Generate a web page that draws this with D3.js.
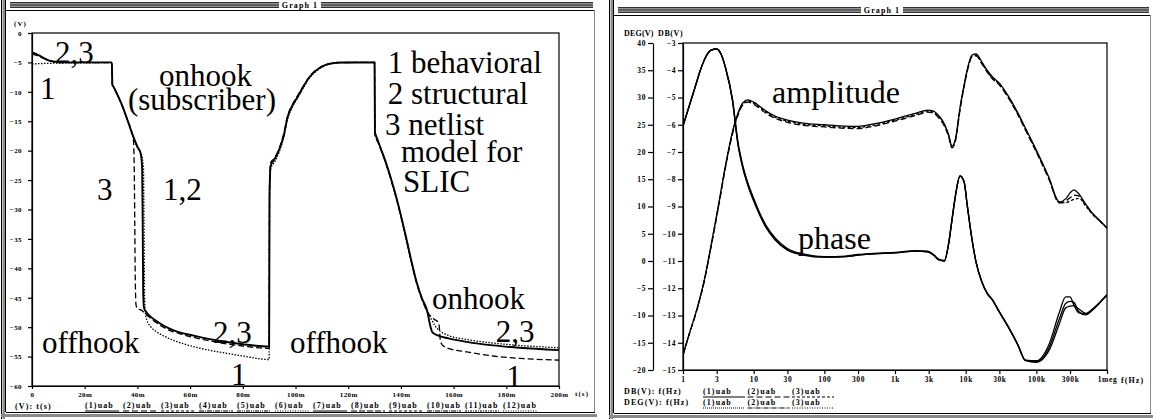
<!DOCTYPE html>
<html>
<head>
<meta charset="utf-8">
<script src="https://cdn.jsdelivr.net/npm/d3@7"></script>
<style>
  body { margin: 0; background: #fff; }
  svg text { font-family: "Liberation Serif", "Times New Roman", Times, serif; }
  .tick text { font-size: 7px; font-weight: bold; letter-spacing: 0.4px; fill: #000; }
  .rt .tick text { font-size: 7.5px; letter-spacing: 0.6px; }
  .lbl { font-size: 8px; font-weight: bold; letter-spacing: 1.1px; fill: #000; }
  .note { font-size: 31px; fill: #000; }
</style>
</head>
<body>
<svg id="chart" width="1153" height="419" font-family="Liberation Serif, Times New Roman, serif"></svg>
<script>
// ---------- left graph: transient, t in ms, V ----------
const timeTicks = [0, 20, 40, 60, 80, 100, 120, 140, 160, 180, 200];
const voltTicks = [0, -5, -10, -15, -20, -25, -30, -35, -40, -45, -50, -55, -60];

// 2 structural (solid)
const structural = [[0,-3.3],[1,-3.45],[2,-3.65],[3,-3.9],[4,-4.15],[5,-4.4],[6,-4.6],[7,-4.75],[8,-4.85],[10,-4.96],[12,-5],
  [30.3,-5],[30.5,-8.8],[31,-9.2],[32,-10.1],[34,-12.1],[36,-14.5],[38,-17.1],[40,-19.3],[41.3,-20.6],[41.8,-23],[42,-32],[42.2,-44],
  [42.5,-46.7],[43.5,-47.5],[45,-48.2],[48,-49.2],[52,-50.2],[56,-50.9],[61,-51.4],[66,-51.9],[72,-52.4],[80,-52.9],[90,-53.3],
  [90.15,-27],[90.6,-22.5],[92,-21.5],[94,-19.6],[95.5,-17.5],[97,-14.3],[99,-12.2],[101,-10.7],[103,-9.1],[105,-7.7],[107,-6.7],
  [109,-6],[111,-5.5],[114,-5.15],[117,-5.02],[130,-5],[130.15,-16.8],[130.6,-17.5],[131.2,-18.2],[132,-19.2],[134,-21.6],[136,-24.4],
  [138,-27.5],[140,-31],[142,-34.8],[144,-38.8],[146,-42.4],[148,-45.1],[150,-47.3],[151,-49.5],[152,-50.9],[154,-51.4],[158,-51.9],
  [165,-52.5],[175,-53.1],[185,-53.5],[200,-53.9]];

// 3 netlist model (dashed)
const netlist = [[0,-3.6],[2,-3.85],[4,-4.25],[6,-4.6],[8,-4.85],[10,-5],[12,-5.05],[30.3,-5.05],[30.5,-8.8],[31,-9.2],[32,-10.1],
  [34,-12.1],[36,-14.5],[38,-17.1],[38.5,-18.2],[38.8,-23],[39,-32],[39.2,-42],[39.5,-46.3],[40.2,-46.9],[41.5,-47.1],[43,-47.7],
  [45,-48.5],[48,-49.5],[52,-50.5],[56,-51.1],[61,-51.7],[66,-52.2],[72,-52.7],[80,-53.2],[90,-53.6],
  [90.15,-26],[90.6,-22],[92,-21.3],[94,-19.4],[95.5,-17.2],[97,-14.1],[99,-12],[101,-10.5],[103,-9],[105,-7.6],[107,-6.6],
  [109,-5.95],[111,-5.45],[114,-5.12],[117,-5.02],[130,-5],[130.15,-17.2],[130.6,-18],[131.2,-18.5],[132,-19.4],[134,-21.8],
  [136,-24.6],[138,-27.7],[140,-31.2],[142,-35],[144,-39],[146,-42.6],[148,-45.3],[150,-47.4],[152.5,-48.6],[154.4,-49.3],
  [154.9,-52],[155.5,-52.9],[156.5,-53.3],[158,-53.6],[165,-54.2],[175,-54.9],[185,-55.3],[200,-55.6]];

// 1 behavioral (dotted)
const behavioral = [[0,-5.25],[12,-5.1],[30.3,-5.05],[30.5,-8.8],[31,-9.2],[32,-10.1],[34,-12.1],[36,-14.5],[38,-17.1],[40,-19.5],
  [41.5,-20.6],[42.3,-23],[42.5,-32],[42.7,-44],[43,-47.5],[43.6,-48.8],[45,-49.9],[47,-50.7],[50,-51.5],[54,-52.3],[58,-52.9],
  [64,-53.6],[72,-54.3],[80,-54.9],[90,-55.5],
  [90.15,-28],[90.6,-23],[92,-22],[94,-20],[95.5,-17.8],[97,-14.6],[99,-12.4],[101,-10.9],[103,-9.3],[105,-7.8],[107,-6.8],
  [109,-6.1],[111,-5.55],[114,-5.18],[117,-5.03],[130,-5],[130.15,-17],[130.6,-17.8],[131.2,-18.4],[132,-19.3],[134,-21.7],
  [136,-24.5],[138,-27.6],[140,-31.1],[142,-34.9],[144,-38.9],[146,-42.5],[148,-45.2],[150,-47.2],[151.5,-48.6],[153,-49.8],
  [155,-50.7],[158,-51.4],[165,-52.1],[175,-52.7],[185,-53.1],[200,-53.5]];

const leftNotes = [
  ["2,3", 8.7, -5.1], ["1", 3, -11.2], ["onhook", 48.2, -9.0], ["(subscriber)", 36.4, -13.1],
  ["3", 24.7, -28.4], ["1,2", 49.7, -28.4], ["offhook", 3.8, -54.4], ["2,3", 68.7, -52.7], ["1", 75.5, -59.9],
  ["offhook", 97.9, -54.4], ["2,3", 176, -52.5], ["1", 180, -60.2], ["onhook", 151.8, -46.9],
  ["1 behavioral", 135, -6.8], ["2 structural", 135, -12.07], ["3 netlist", 134, -17.35],
  ["model for", 140, -21.9], ["SLIC", 140.8, -27.0]];

const leftLegend = ["(1)uab","(2)uab","(3)uab","(4)uab","(5)uab","(6)uab","(7)uab","(8)uab","(9)uab","(10)uab","(11)uab","(12)uab"];
const leftLegendDash = ["", "6,3", "3,2", "5,1,1,1", "4,1,1,1,1,1", "1,1.5", "", "6,2", "3,2", "5,1,1,1", "2,1,1,1", "1,1.5"];

// ---------- right graph: AC response ----------
const freqTicks = [1, 3, 10, 30, 100, 300, 1e3, 3e3, 1e4, 3e4, 1e5, 3e5, 1e6];
const freqLabels = ["1","3","10","30","100","300","1k","3k","10k","30k","100k","300k","1meg"];
const degTicks = [40, 35, 30, 25, 20, 15, 10, 5, 0, -5, -10, -15, -20];
const dbTicks = [-3, -4, -5, -6, -7, -8, -9, -10, -11, -12, -13, -14, -15];

const freqs = [1,1.25,1.5,1.75,2,2.5,3,3.5,4,5,6,7,8.3,10,12,15,20,30,50,100,200,300,500,1000,2000,2900,3500,4200,5000,5700,
  6400,7200,8300,9500,10500,12300,14000,17000,20000,24000,30000,40000,55000,70000,100000,150000,212000,260000,300000,340000,
  400000,500000,600000,800000,1000000];

const amp1 = [-14.45,-13.6,-12.95,-12.32,-11.7,-10.41,-9.31,-8.32,-7.48,-6.27,-5.57,-5.2,-5.09,-5.17,-5.31,-5.5,-5.68,-5.83,-5.94,
  -6.0,-6.05,-6.06,-5.97,-5.79,-5.57,-5.46,-5.5,-5.68,-5.97,-6.34,-6.78,-6.5,-5.39,-4.54,-3.99,-3.44,-3.4,-3.7,-3.99,-4.25,
  -4.47,-4.94,-5.57,-6.12,-6.93,-7.92,-8.83,-8.72,-8.5,-8.39,-8.54,-8.91,-9.2,-9.53,-9.79];
const amp2 = [-14.45,-13.62,-12.98,-12.36,-11.75,-10.47,-9.38,-8.4,-7.56,-6.35,-5.65,-5.28,-5.17,-5.25,-5.39,-5.58,-5.76,-5.91,-6.02,
  -6.08,-6.13,-6.14,-6.05,-5.87,-5.65,-5.54,-5.58,-5.76,-6.05,-6.41,-6.85,-6.57,-5.47,-4.61,-4.06,-3.51,-3.47,-3.77,-4.06,-4.32,
  -4.54,-5.01,-5.64,-6.19,-7.0,-7.99,-8.87,-8.8,-8.68,-8.58,-8.62,-8.95,-9.22,-9.54,-9.79];
const amp3 = [-14.45,-13.61,-12.97,-12.34,-11.73,-10.44,-9.35,-8.36,-7.52,-6.31,-5.61,-5.24,-5.13,-5.21,-5.35,-5.54,-5.72,-5.87,-5.98,
  -6.04,-6.09,-6.1,-6.01,-5.83,-5.61,-5.5,-5.54,-5.72,-6.01,-6.38,-6.82,-6.54,-5.43,-4.58,-4.03,-3.48,-3.44,-3.74,-4.03,-4.29,
  -4.51,-4.98,-5.61,-6.16,-6.97,-7.96,-8.86,-8.86,-8.8,-8.74,-8.7,-8.98,-9.24,-9.55,-9.79];

const phase1 = [24.8,28.8,32.1,34.9,36.9,38.7,38.9,37.8,35.4,29.5,21.3,17.1,13.8,11.0,8.6,6.1,3.9,2.0,1.1,0.7,0.8,1.1,1.3,1.5,1.8,
  1.7,1.1,0.2,0.0,2.9,7.5,12.1,15.6,14.5,10.3,3.9,-0.2,-3.9,-5.9,-7.2,-9.4,-12.1,-15.4,-18.2,-18.3,-15.4,-9.4,-6.6,-6.6,-8.1,
  -9.5,-9.7,-9.0,-7.5,-6.2];
const phase2 = [24.8,28.8,32.1,34.9,36.9,38.7,38.9,37.8,35.5,29.8,21.8,17.6,14.3,11.5,9.0,6.5,4.3,2.3,1.3,0.8,0.9,1.2,1.4,1.6,1.9,
  1.8,1.2,0.3,0.1,3.0,7.6,12.2,15.6,14.6,10.4,4.0,-0.1,-3.8,-5.8,-7.1,-9.3,-12.0,-15.4,-18.2,-18.5,-16.0,-10.6,-7.8,-7.4,-7.6,
  -9.3,-9.9,-9.2,-7.6,-6.2];
const phase3 = [24.8,28.8,32.1,34.9,36.9,38.7,38.9,37.8,35.4,29.6,21.5,17.3,14.0,11.2,8.8,6.3,4.1,2.1,1.2,0.7,0.8,1.1,1.3,1.5,1.8,
  1.7,1.1,0.2,0.0,2.9,7.5,12.1,15.6,14.5,10.3,3.9,-0.2,-3.9,-5.9,-7.2,-9.4,-12.1,-15.5,-18.3,-18.6,-16.5,-11.5,-8.6,-8.3,-8.2,
  -8.8,-9.6,-9.1,-7.6,-6.2];

const rightNotes = [["amplitude", 18.2, -5.2], ["phase", 42.4, -10.55]];
const rightLegend = ["(1)uab", "(2)uab", "(3)uab"];
const dbDash = ["", "6,3", "3,2"];
const degDash = ["1,1", "5,1,1,1", "1,1.5"];

// ---------- drawing ----------
const svg = d3.select("#chart");
const serif = "Liberation Serif, Times New Roman, serif";

function windowFrame(x0, x1, yTop, yBottom) {
  const g = svg.append("g");
  // outer left double line
  g.append("line").attr("x1", x0 + 0.5).attr("x2", x0 + 0.5).attr("y1", 0).attr("y2", 419).attr("stroke", "#000");
  g.append("rect").attr("x", x0 + 1.5).attr("y", 0).attr("width", 2.5).attr("height", 419).attr("fill", "#8a8a8a");
  g.append("line").attr("x1", x0 + 4.5).attr("x2", x0 + 4.5).attr("y1", 0).attr("y2", yBottom).attr("stroke", "#000");
  // title bar stripes
  const tx0 = x0 + 9, tx1 = x1 - 2;
  g.append("rect").attr("x", tx0).attr("y", yTop).attr("width", tx1 - tx0).attr("height", 6).attr("fill", "#8f8f8f");
  [yTop + 0.5, yTop + 3, yTop + 5.5].forEach(y =>
    g.append("line").attr("x1", tx0).attr("x2", tx1).attr("y1", y).attr("y2", y).attr("stroke", "#333").attr("stroke-width", 1));
  const cx = (x0 + x1) / 2 + 2;
  g.append("rect").attr("x", cx - 21).attr("y", yTop - 1).attr("width", 42).attr("height", 8).attr("fill", "#fff");
  g.append("text").attr("class", "lbl").attr("x", cx).attr("y", yTop + 6).attr("text-anchor", "middle")
    .attr("font-family", serif).text("Graph 1");
  // inner box
  g.append("line").attr("x1", x0 + 5).attr("x2", x1).attr("y1", yTop + 8.5).attr("y2", yTop + 8.5).attr("stroke", "#000");
  g.append("line").attr("x1", x1 - 0.5).attr("x2", x1 - 0.5).attr("y1", yTop + 8).attr("y2", yBottom).attr("stroke", "#888");
  g.append("line").attr("x1", x0 + 5).attr("x2", x1).attr("y1", yBottom + 0.5).attr("y2", yBottom + 0.5).attr("stroke", "#000");
  g.append("rect").attr("x", x0).attr("y", yBottom + 2).attr("width", x1 - x0 + 2).attr("height", 3).attr("fill", "#8a8a8a");
}

windowFrame(1, 595, 2, 412);
windowFrame(609, 1151, 7, 413);

function styleAxis(g) {
  g.attr("font-family", serif);
  g.select(".domain").attr("stroke", "#000").attr("stroke-width", 1.2);
  g.selectAll(".tick line").attr("stroke", "#000").attr("stroke-width", 1.2);
}

// ---- left chart ----
const xT = d3.scaleLinear().domain([0, 200]).range([32, 559]);
const yV = d3.scaleLinear().domain([-60, 0]).range([386, 33]);

svg.append("clipPath").attr("id", "clipL").append("rect")
  .attr("x", xT(0)).attr("y", yV(0)).attr("width", xT(200) - xT(0)).attr("height", yV(-60) - yV(0));

const left = svg.append("g").attr("font-family", serif);
left.append("rect").attr("x", xT(0)).attr("y", yV(0)).attr("width", xT(200) - xT(0)).attr("height", yV(-60) - yV(0))
  .attr("fill", "none").attr("stroke", "#000").attr("stroke-width", 1.2);

left.append("g").attr("transform", `translate(0,${yV(-60)})`)
  .call(d3.axisBottom(xT).tickValues(timeTicks).tickSize(3).tickSizeOuter(0).tickPadding(3)
    .tickFormat(d => d === 0 ? "0" : d + "m"))
  .call(styleAxis);
left.append("g").attr("transform", `translate(${xT(0)},0)`)
  .call(d3.axisLeft(yV).tickValues(voltTicks).tickSize(4).tickSizeOuter(0).tickPadding(6).tickFormat(d3.format("d")))
  .call(styleAxis);

left.append("text").attr("class", "lbl").attr("x", 14).attr("y", 26).style("font-size", "7px").text("(V)");
left.append("text").attr("class", "lbl").attr("x", 575).attr("y", 396).style("font-size", "7px").text("t(s)");

const lineL = d3.line().x(d => xT(d[0])).y(d => yV(d[1])).curve(d3.curveMonotoneX);
const traces = left.append("g").attr("clip-path", "url(#clipL)").attr("fill", "none").attr("stroke", "#000");
traces.append("path").attr("d", lineL(behavioral)).attr("stroke-width", 1.3).attr("stroke-dasharray", "1.5,1.5");
traces.append("path").attr("d", lineL(netlist)).attr("stroke-width", 1.3).attr("stroke-dasharray", "6,3");
traces.append("path").attr("d", lineL(structural)).attr("stroke-width", 1.9);

left.selectAll("text.note").data(leftNotes).join("text").attr("class", "note").attr("font-family", serif)
  .attr("x", d => xT(d[1])).attr("y", d => yV(d[2])).text(d => d[0]);

left.append("text").attr("class", "lbl").attr("x", 15).attr("y", 409).text("(V): t(s)");
const legX = d3.scalePoint().domain(leftLegend).range([85, 503]);
const legG = left.selectAll("g.leg").data(leftLegend).join("g").attr("class", "leg")
  .attr("transform", d => `translate(${legX(d)},0)`);
legG.append("text").attr("class", "lbl").attr("y", 408).text(d => d);
legG.append("line").attr("x1", 0).attr("x2", 34).attr("y1", 411).attr("y2", 411).attr("stroke", "#000")
  .attr("stroke-width", 1.2).attr("stroke-dasharray", (d, i) => leftLegendDash[i]);

// ---- right chart ----
const xF = d3.scaleLog().domain([1, 1e6]).range([683, 1107]);
const yDeg = d3.scaleLinear().domain([-20, 40]).range([370, 43]);
const yDb = d3.scaleLinear().domain([-15, -3]).range([370, 43]);

svg.append("clipPath").attr("id", "clipR").append("rect")
  .attr("x", xF(1)).attr("y", yDb(-3)).attr("width", xF(1e6) - xF(1)).attr("height", yDb(-15) - yDb(-3));

const right = svg.append("g").attr("class", "rt").attr("font-family", serif);
right.append("rect").attr("x", xF(1)).attr("y", yDb(-3)).attr("width", xF(1e6) - xF(1)).attr("height", yDb(-15) - yDb(-3))
  .attr("fill", "none").attr("stroke", "#000").attr("stroke-width", 1.2);

right.append("g").attr("transform", `translate(0,${yDb(-15)})`)
  .call(d3.axisBottom(xF).tickValues(freqTicks).tickSize(4).tickSizeOuter(0).tickPadding(3)
    .tickFormat((d, i) => freqLabels[i]))
  .call(styleAxis);
right.append("g").attr("transform", `translate(${xF(1)},0)`)
  .call(d3.axisLeft(yDb).tickValues(dbTicks).tickSize(5).tickSizeOuter(0).tickPadding(2).tickFormat(d3.format("d")))
  .call(styleAxis);
right.append("g").attr("transform", "translate(653,0)")
  .call(d3.axisLeft(yDeg).tickValues(degTicks).tickSize(5).tickSizeOuter(0).tickPadding(2).tickFormat(d3.format("d")))
  .call(styleAxis);

right.append("text").attr("class", "lbl").attr("x", 624).attr("y", 36).style("letter-spacing", "0.2px").text("DEG(V)");
right.append("text").attr("class", "lbl").attr("x", 658).attr("y", 36).style("letter-spacing", "0.6px").text("DB(V)");
right.append("text").attr("class", "lbl").attr("x", 1121).attr("y", 383).text("f(Hz)");

const lineDb = d3.line().x((d, i) => xF(freqs[i])).y(d => yDb(d)).curve(d3.curveMonotoneX);
const lineDeg = d3.line().x((d, i) => xF(freqs[i])).y(d => yDeg(d)).curve(d3.curveMonotoneX);
const curves = right.append("g").attr("clip-path", "url(#clipR)").attr("fill", "none").attr("stroke", "#000")
  .attr("stroke-width", 1.3);
[phase3, phase2, phase1].forEach(s => curves.append("path").attr("d", lineDeg(s)));
curves.append("path").attr("d", lineDb(amp3)).attr("stroke-dasharray", "3,2");
curves.append("path").attr("d", lineDb(amp2)).attr("stroke-dasharray", "6,3");
curves.append("path").attr("d", lineDb(amp1));

right.selectAll("text.note").data(rightNotes).join("text").attr("class", "note").style("font-size", "32px")
  .attr("x", d => xF(d[1])).attr("y", d => yDb(d[2])).text(d => d[0]);

right.append("text").attr("class", "lbl").attr("x", 624).attr("y", 394).text("DB(V): f(Hz)");
right.append("text").attr("class", "lbl").attr("x", 624).attr("y", 405).text("DEG(V): f(Hz)");
const rLegX = d3.scalePoint().domain(rightLegend).range([703, 792]);
const rLeg = right.selectAll("g.rleg").data(rightLegend).join("g").attr("class", "rleg")
  .attr("transform", d => `translate(${rLegX(d)},0)`);
rLeg.append("text").attr("class", "lbl").attr("y", 394).text(d => d);
rLeg.append("text").attr("class", "lbl").attr("y", 405).text(d => d);
rLeg.append("line").attr("x1", 0).attr("x2", 42).attr("y1", 397).attr("y2", 397).attr("stroke", "#000")
  .attr("stroke-width", 1.2).attr("stroke-dasharray", (d, i) => dbDash[i]);
rLeg.append("line").attr("x1", 0).attr("x2", 42).attr("y1", 408).attr("y2", 408).attr("stroke", "#000")
  .attr("stroke-width", 1.2).attr("stroke-dasharray", (d, i) => degDash[i]);
</script>
</body>
</html>
